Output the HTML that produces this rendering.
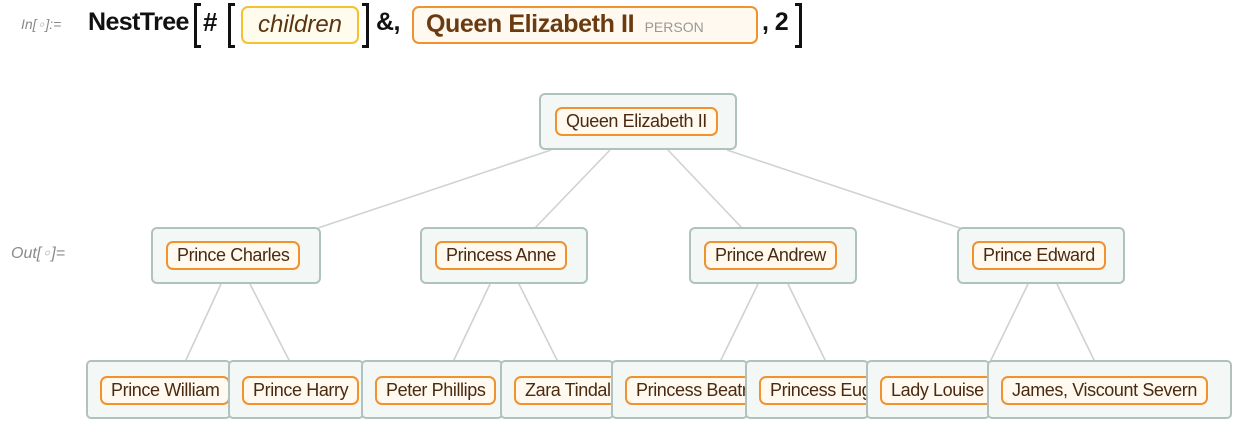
<!DOCTYPE html>
<html><head><meta charset="utf-8"><style>
body{margin:0;width:1234px;height:424px;background:#fff;position:relative;overflow:hidden;font-family:"Liberation Sans",sans-serif}
.a{position:absolute}
.box{position:absolute;background:#f3f8f7;border:2px solid #b0c2bf;border-radius:5px;box-sizing:border-box;overflow:hidden}
.mb{border-radius:6px}
.pill{position:absolute;border:2px solid #f0922e;background:#fff9ef;border-radius:7px;box-sizing:border-box;height:29px;font-size:18px;color:#4a2a10;line-height:25px;padding:0 9px;white-space:nowrap;letter-spacing:-0.4px}
.lab{position:absolute;color:#8a8a8a;font-style:italic;font-size:15px}
.hdr{position:absolute;font-weight:bold;font-size:25px;color:#111;top:8px;letter-spacing:-0.6px}
.bl{position:absolute;top:3px;height:45px;width:7px;border:3px solid #111;border-right:none;box-sizing:border-box}
.brr{position:absolute;top:3px;height:45px;width:7px;border:3px solid #111;border-left:none;box-sizing:border-box}
</style></head><body>
<div class="lab" style="left:21px;top:16px;font-size:14px">In[<span style="color:#ccc">∘</span>]:=</div>
<div class="hdr" style="left:88px">NestTree</div>
<div class="bl" style="left:194px"></div>
<div class="hdr" style="left:203px;font-size:26px;top:7px">#</div>
<div class="bl" style="left:228px"></div>
<div class="a" style="left:241px;top:6px;width:118px;height:38px;border:2px solid #f3c22e;background:#fffbed;border-radius:7px;box-sizing:border-box;font-style:italic;font-size:24px;color:#5a3510;text-align:center;line-height:33px">children</div>
<div class="brr" style="left:362px"></div>
<div class="hdr" style="left:376px">&amp;,</div>
<div class="a" style="left:412px;top:6px;width:346px;height:38px;border:2px solid #f0922e;background:#fff9ef;border-radius:7px;box-sizing:border-box;padding-left:12px;line-height:33px;white-space:nowrap"><span style="font-weight:bold;font-size:25px;color:#6a3a10;letter-spacing:-0.4px">Queen Elizabeth II</span> <span style="font-size:14px;color:#999;margin-left:6px">PERSON</span></div>
<div class="hdr" style="left:762px">, 2</div>
<div class="brr" style="left:795px"></div>

<div class="lab" style="left:11px;top:243px;font-size:16px">Out[<span style="color:#ccc">∘</span>]=</div>

<svg class="a" style="left:0;top:0" width="1234" height="424">
<g stroke="#cdd3d2" stroke-width="1.6" fill="none">
<line x1="551" y1="150" x2="318" y2="228"/>
<line x1="610" y1="150" x2="535" y2="228"/>
<line x1="668" y1="150" x2="742" y2="228"/>
<line x1="727" y1="150" x2="960" y2="228"/>
<line x1="221" y1="284" x2="185" y2="362"/>
<line x1="250" y1="284" x2="290" y2="362"/>
<line x1="490" y1="284" x2="453" y2="362"/>
<line x1="519" y1="284" x2="558" y2="362"/>
<line x1="758" y1="284" x2="720" y2="362"/>
<line x1="788" y1="284" x2="826" y2="362"/>
<line x1="1028" y1="284" x2="990" y2="362"/>
<line x1="1057" y1="284" x2="1095" y2="362"/>
</g></svg>

<div class="box mb" style="left:539px;top:93px;width:198px;height:57px"><div class="pill" style="left:14px;top:12px">Queen Elizabeth II</div></div>
<div class="box mb" style="left:151px;top:227px;width:170px;height:57px"><div class="pill" style="left:13px;top:12px">Prince Charles</div></div>
<div class="box mb" style="left:420px;top:227px;width:168px;height:57px"><div class="pill" style="left:13px;top:12px">Princess Anne</div></div>
<div class="box mb" style="left:689px;top:227px;width:168px;height:57px"><div class="pill" style="left:13px;top:12px">Prince Andrew</div></div>
<div class="box mb" style="left:957px;top:227px;width:168px;height:57px"><div class="pill" style="left:13px;top:12px">Prince Edward</div></div>

<div class="box" style="left:86px;top:360px;width:145px;height:59px"><div class="pill" style="left:12px;top:14px">Prince William</div></div>
<div class="box" style="left:228px;top:360px;width:136px;height:59px"><div class="pill" style="left:12px;top:14px">Prince Harry</div></div>
<div class="box" style="left:361px;top:360px;width:142px;height:59px"><div class="pill" style="left:12px;top:14px">Peter Phillips</div></div>
<div class="box" style="left:500px;top:360px;width:114px;height:59px"><div class="pill" style="left:12px;top:14px">Zara Tindall</div></div>
<div class="box" style="left:611px;top:360px;width:137px;height:59px"><div class="pill" style="left:12px;top:14px">Princess Beatrice</div></div>
<div class="box" style="left:745px;top:360px;width:124px;height:59px"><div class="pill" style="left:12px;top:14px">Princess Eugenie</div></div>
<div class="box" style="left:866px;top:360px;width:124px;height:59px"><div class="pill" style="left:12px;top:14px">Lady Louise Windsor</div></div>
<div class="box" style="left:987px;top:360px;width:245px;height:59px"><div class="pill" style="left:12px;top:14px">James, Viscount Severn</div></div>
</body></html>
